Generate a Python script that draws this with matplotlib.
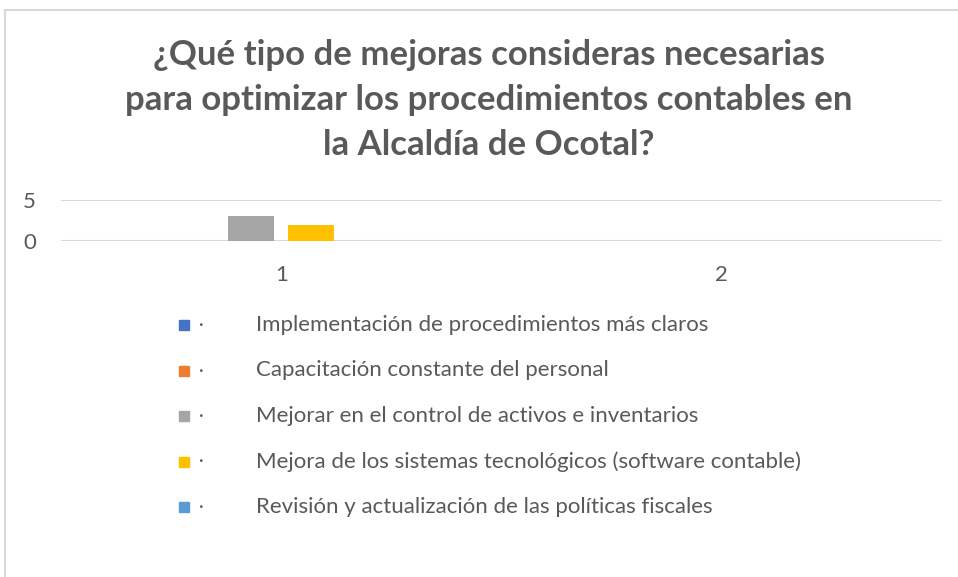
import matplotlib
matplotlib.use("Agg")
import matplotlib.pyplot as plt
import numpy as np
from matplotlib.lines import Line2D
from matplotlib.patches import Rectangle

categories = ["1", "2"]
series_names = [
    "Implementación de procedimientos más claros",
    "Capacitación constante del personal",
    "Mejorar en el control de activos e inventarios",
    "Mejora de los sistemas tecnológicos (software contable)",
    "Revisión y actualización de las políticas fiscales",
]
series_values = [
    [0, 0],
    [0, 0],
    [3, 0],
    [2, 0],
    [0, 0],
]
series_colors = ["#4472C4", "#ED7D31", "#A5A5A5", "#FFC000", "#5B9BD5"]
title_lines = [
    "¿Qué tipo de mejoras consideras necesarias",
    "para optimizar los procedimientos contables en",
    "la Alcaldía de Ocotal?",
]
y_ticks = [0, 5]

W, H = 958, 577
text_color = "#595959"
grid_color = "#d9d9d9"
plt.rcParams["font.family"] = ["Lato", "DejaVu Sans"]

fig = plt.figure(figsize=(W / 100, H / 100), dpi=100)
fig.patch.set_facecolor("white")

# outer chart frame (top + left edges visible)
fig.add_artist(Line2D([5 / W, 1.0], [1 - 10 / H, 1 - 10 / H], color=grid_color, lw=1.5))
fig.add_artist(Line2D([5 / W, 5 / W], [0, 1 - 10 / H], color=grid_color, lw=1.5))

# plot area
ax = fig.add_axes([61 / W, 1 - 241 / H, (942 - 61) / W, 41 / H])
x = np.arange(len(categories))
slot = 60 / 440
bar_w = 46 / 440
n_slots = 6
for i, (vals, col) in enumerate(zip(series_values, series_colors)):
    ax.bar(x + (i - (n_slots - 1) / 2) * slot, vals, width=bar_w, color=col, zorder=3)

ax.set_xlim(-0.5, len(categories) - 0.5)
ax.set_ylim(0, 5)
ax.set_yticks(y_ticks)
ax.set_xticks(x)
ax.set_xticklabels(categories)
for s in ax.spines.values():
    s.set_visible(False)
for yv in y_ticks:
    ax.axhline(yv, color=grid_color, lw=1.5, zorder=1)
ax.tick_params(length=0, labelsize=16, labelcolor=text_color)
ax.tick_params(axis="y", pad=18)
ax.tick_params(axis="x", pad=17)

# title
for k, line in enumerate(title_lines):
    fig.text(489 / W, 1 - (55 + 45 * k) / H, line, ha="center", va="center",
             fontsize=25, fontweight="bold", color=text_color)

# legend
for i, (name, col) in enumerate(zip(series_names, series_colors)):
    yc = 325 + 45.5 * i
    fig.add_artist(Rectangle((179 / W, 1 - (yc + 5) / H), 10 / W, 10 / H,
                             transform=fig.transFigure, color=col))
    fig.text(199 / W, 1 - yc / H, "·", ha="left", va="center", fontsize=13, color=text_color)
    fig.text(256 / W, 1 - yc / H, name, ha="left", va="center", fontsize=16, color=text_color)

fig.savefig("out.png", dpi=100)
